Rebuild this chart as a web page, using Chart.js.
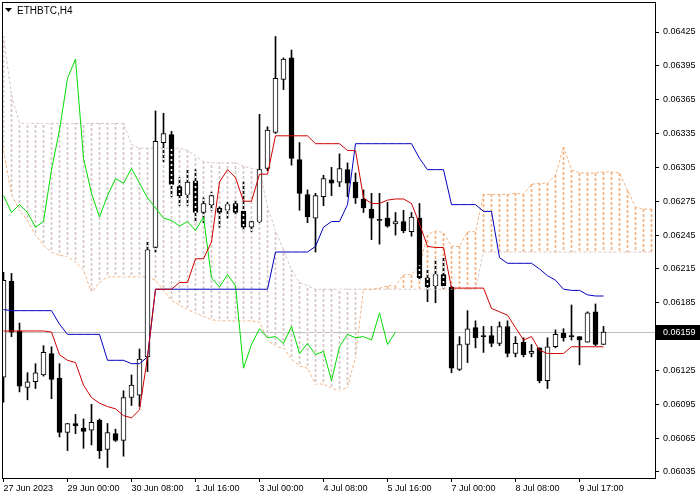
<!DOCTYPE html>
<html><head><meta charset="utf-8">
<script src="https://cdn.jsdelivr.net/npm/chart.js@4.4.1/dist/chart.umd.min.js"></script>
<style>html,body{margin:0;padding:0;background:#fff;}canvas{display:block;}</style>
</head><body>
<canvas id="c" width="700" height="500"></canvas>
<script>
const symbolTitle = "ETHBTC,H4";
const timeLabels = ["27 Jun 2023","29 Jun 00:00","30 Jun 08:00","1 Jul 16:00","3 Jul 00:00","4 Jul 08:00","5 Jul 16:00","7 Jul 00:00","8 Jul 08:00","9 Jul 17:00"];
const timeLabelBars = [0,8,16,24,32,40,48,56,64,72];
const priceTicks = [0.06035,0.06065,0.06095,0.06125,0.06155,0.06185,0.06215,0.06245,0.06275,0.06305,0.06335,0.06365,0.06395,0.06425];
const lastPrice = 0.06159;

const open = [0.06119,0.06204,0.06160,0.06110,0.06115,0.06121,0.06140,0.06118,0.06070,0.06078,
0.06074,0.06072,0.06081,0.06055,0.06069,0.06063,0.06101,0.06103,0.06137,0.06234,
0.06327,0.06334,0.06288,0.06281,0.06293,0.06265,0.06272,0.06269,0.06267,0.06273,
0.06266,0.06252,0.06257,0.06304,0.06336,0.06383,0.06402,0.06312,0.06281,0.06260,
0.06279,0.06294,0.06292,0.06303,0.06292,0.06277,0.06268,0.06259,0.06260,0.06255,
0.06257,0.06248,0.06260,0.06207,0.06200,0.06210,0.06199,0.06126,0.06148,0.06163,
0.06156,0.06156,0.06149,0.06164,0.06140,0.06150,0.06140,0.06145,0.06116,0.06146,
0.06158,0.06156,0.06155,0.06150,0.06177,0.06148];
const high = [0.06212,0.06211,0.06167,0.06123,0.06131,0.06147,0.06146,0.06131,0.06078,0.06086,
0.06082,0.06095,0.06082,0.06078,0.06073,0.06107,0.06121,0.06144,0.06239,0.06355,
0.06353,0.06337,0.06296,0.06303,0.06303,0.06278,0.06283,0.06270,0.06274,0.06276,
0.06292,0.06258,0.06352,0.06341,0.06421,0.06402,0.06409,0.06327,0.06285,0.06282,
0.06298,0.06305,0.06317,0.06309,0.06300,0.06285,0.06282,0.06282,0.06274,0.06265,
0.06267,0.06265,0.06273,0.06214,0.06223,0.06225,0.06200,0.06155,0.06178,0.06169,
0.06164,0.06164,0.06168,0.06169,0.06155,0.06154,0.06148,0.06145,0.06154,0.06161,
0.06162,0.06183,0.06155,0.06177,0.06184,0.06164];
const low = [0.06097,0.06155,0.06106,0.06099,0.06109,0.06120,0.06100,0.06066,0.06054,0.06069,
0.06056,0.06059,0.06047,0.06039,0.06062,0.06049,0.06094,0.06093,0.06124,0.06230,
0.06310,0.06279,0.06271,0.06271,0.06256,0.06256,0.06267,0.06252,0.06260,0.06263,
0.06249,0.06248,0.06256,0.06302,0.06335,0.06374,0.06307,0.06267,0.06256,0.06230,
0.06271,0.06280,0.06288,0.06279,0.06273,0.06265,0.06241,0.06237,0.06252,0.06245,
0.06247,0.06244,0.06205,0.06186,0.06185,0.06198,0.06123,0.06125,0.06132,0.06145,
0.06141,0.06146,0.06147,0.06137,0.06137,0.06137,0.06137,0.06114,0.06109,0.06145,
0.06151,0.06152,0.06130,0.06150,0.06147,0.06148];
const close = [0.06205,0.06159,0.06111,0.06115,0.06123,0.06141,0.06117,0.06070,0.06078,0.06076,
0.06071,0.06079,0.06054,0.06070,0.06063,0.06101,0.06112,0.06135,0.06232,0.06328,
0.06335,0.06290,0.06280,0.06292,0.06265,0.06273,0.06280,0.06265,0.06272,0.06265,
0.06252,0.06257,0.06303,0.06338,0.06384,0.06401,0.06313,0.06282,0.06261,0.06280,
0.06295,0.06291,0.06304,0.06291,0.06278,0.06269,0.06260,0.06258,0.06253,0.06257,
0.06249,0.06261,0.06207,0.06199,0.06210,0.06200,0.06127,0.06148,0.06162,0.06154,
0.06155,0.06149,0.06164,0.06140,0.06149,0.06139,0.06142,0.06116,0.06146,0.06157,
0.06154,0.06155,0.06152,0.06176,0.06148,0.06159];

const tenkan = [0.06160,0.06160,0.06160,0.06160,0.06160,0.06160,0.06159,0.06139,0.06134,0.06132,
0.06112,0.06101,0.06096,0.06093,0.06091,0.06085,0.06083,0.06090,0.06137,0.06197,
0.06197,0.06197,0.06203,0.06203,0.06224,0.06224,0.06239,0.06292,0.06303,0.06296,
0.06275,0.06275,0.06299,0.06299,0.06333,0.06333,0.06333,0.06333,0.06333,0.06326,
0.06326,0.06326,0.06326,0.06320,0.06320,0.06278,0.06273,0.06273,0.06276,0.06277,
0.06277,0.06273,0.06255,0.06235,0.06234,0.06234,0.06198,0.06198,0.06198,0.06198,
0.06198,0.06180,0.06177,0.06174,0.06163,0.06152,0.06155,0.06143,0.06140,0.06140,
0.06140,0.06146,0.06146,0.06146,0.06146,0.06146];
const kijun = [0.06179,0.06178,0.06178,0.06178,0.06178,0.06178,0.06178,0.06166,0.06157,0.06157,
0.06157,0.06157,0.06157,0.06134,0.06134,0.06134,0.06131,0.06131,0.06137,0.06197,
0.06197,0.06197,0.06197,0.06197,0.06197,0.06197,0.06197,0.06197,0.06197,0.06197,
0.06197,0.06197,0.06197,0.06197,0.06230,0.06230,0.06230,0.06230,0.06230,0.06235,
0.06252,0.06257,0.06257,0.06272,0.06326,0.06326,0.06326,0.06326,0.06326,0.06326,
0.06326,0.06326,0.06313,0.06303,0.06303,0.06303,0.06272,0.06272,0.06272,0.06272,
0.06266,0.06266,0.06225,0.06220,0.06220,0.06220,0.06220,0.06215,0.06209,0.06205,
0.06197,0.06196,0.06196,0.06192,0.06191,0.06191];
const chikou = [0.06280,0.06265,0.06272,0.06265,0.06252,0.06257,0.06303,0.06338,0.06384,0.06401,
0.06313,0.06282,0.06261,0.06280,0.06295,0.06291,0.06304,0.06291,0.06278,0.06269,
0.06260,0.06258,0.06253,0.06257,0.06249,0.06261,0.06207,0.06199,0.06210,0.06200,
0.06127,0.06148,0.06162,0.06154,0.06155,0.06149,0.06164,0.06140,0.06149,0.06139,
0.06142,0.06116,0.06146,0.06157,0.06154,0.06155,0.06152,0.06176,0.06148,0.06159];
const spanA = [0.06320,0.06281,0.06267,0.06258,0.06245,0.06236,0.06230,0.06227,0.06226,0.06221,
0.06214,0.06194,0.06203,0.06208,0.06208,0.06208,0.06208,0.06208,0.06208,0.06205,
0.06196,0.06187,0.06183,0.06179,0.06176,0.06173,0.06170,0.06169,0.06169,0.06169,
0.06169,0.06169,0.06168,0.06152,0.06146,0.06145,0.06135,0.06129,0.06127,0.06113,
0.06113,0.06109,0.06107,0.06110,0.06137,0.06197,0.06197,0.06198,0.06200,0.06200,
0.06210,0.06210,0.06218,0.06245,0.06249,0.06247,0.06235,0.06235,0.06248,0.06248,
0.06281,0.06281,0.06281,0.06281,0.06282,0.06281,0.06290,0.06291,0.06291,0.06298,
0.06323,0.06303,0.06300,0.06300,0.06300,0.06301,0.06301,0.06300,0.06285,0.06270,
0.06268,0.06268];
const spanB = [0.06421,0.06369,0.06344,0.06344,0.06344,0.06344,0.06344,0.06344,0.06344,0.06344,
0.06344,0.06344,0.06344,0.06344,0.06344,0.06344,0.06325,0.06322,0.06322,0.06322,
0.06322,0.06322,0.06322,0.06320,0.06315,0.06310,0.06309,0.06309,0.06309,0.06309,
0.06306,0.06304,0.06303,0.06270,0.06249,0.06232,0.06214,0.06203,0.06200,0.06197,
0.06197,0.06197,0.06197,0.06197,0.06197,0.06197,0.06197,0.06197,0.06197,0.06197,
0.06197,0.06197,0.06197,0.06197,0.06197,0.06197,0.06197,0.06197,0.06197,0.06197,
0.06230,0.06230,0.06230,0.06230,0.06230,0.06230,0.06230,0.06230,0.06230,0.06230,
0.06230,0.06230,0.06230,0.06230,0.06230,0.06230,0.06230,0.06230,0.06230,0.06230,
0.06230,0.06230];

const Y_MIN = 0.0602968, Y_MAX = 0.0645071;
const X_MIN = -0.0625, X_MAX = 81.4375;

const FONT = 'Liberation Sans';
Chart.defaults.font.family = FONT;
Chart.defaults.font.size = 9;
Chart.defaults.color = '#000';

const SANDY = 'rgb(242,178,128)', THISTLE = 'rgb(214,198,198)';
const DASH_ON = 3, DASH_PERIOD = 5;

function tile(onColor, offColor) {
  const c = document.createElement('canvas');
  c.width = 1; c.height = DASH_PERIOD;
  const g = c.getContext('2d');
  if (onColor) { g.fillStyle = onColor; g.fillRect(0, 0, 1, DASH_ON); }
  if (offColor) { g.fillStyle = offColor; g.fillRect(0, DASH_ON, 1, DASH_PERIOD - DASH_ON); }
  return c;
}
const tiles = { sandy: tile(SANDY, null), thistle: tile(THISTLE, null), gap: tile(null, '#fff') };
const patCache = {};
function phased(ctx, key, phase) {
  const k = key + ':' + phase;
  if (!patCache[k]) {
    const p = ctx.createPattern(tiles[key], 'repeat');
    p.setTransform(new DOMMatrix([1, 0, 0, 1, 0, phase]));
    patCache[k] = p;
  }
  return patCache[k];
}
function cloudStyle(kind) {
  return (c) => {
    const i = c.dataIndex;
    const ys = c.chart.scales && c.chart.scales.y;
    if (i === undefined || !ys) return 'rgba(0,0,0,0)';
    const phase = Math.round(ys.getPixelForValue(spanA[i])) % DASH_PERIOD;
    const key = kind === 'gap' ? 'gap' : (spanA[i] >= spanB[i] ? 'sandy' : 'thistle');
    return phased(c.chart.ctx, key, phase);
  };
}

const pts = arr => arr.map((v, i) => ({x: i, y: v}));
const up = close.map((c, i) => c >= open[i]);
const cloudData = spanA.map((a, i) => ({x: i, y: [a, spanB[i]]}));

const datasets = [
  { type: 'bar', label: 'Cloud', order: 10, grouped: false, barThickness: 1, borderWidth: 0,
    data: cloudData, backgroundColor: cloudStyle('fill') },
  { type: 'line', label: 'Senkou Span A', order: 9, data: pts(spanA), borderColor: SANDY,
    borderWidth: 1, borderDash: [3, 2], pointRadius: 0, tension: 0 },
  { type: 'line', label: 'Senkou Span B', order: 9, data: pts(spanB), borderColor: THISTLE,
    borderWidth: 1, borderDash: [3, 2], pointRadius: 0, tension: 0 },
  { type: 'bar', label: 'Wick', order: 6, grouped: false, barThickness: 1, borderWidth: 0,
    data: high.map((h, i) => ({x: i, y: [low[i], h]})), backgroundColor: '#000' },
  { type: 'bar', label: 'Body', order: 5, grouped: false, barThickness: 5, borderWidth: 1,
    borderSkipped: false, borderColor: '#000',
    data: open.map((o, i) => ({x: i, y: [o, close[i]]})),
    backgroundColor: up.map(u => u ? '#fff' : '#000') },
  { type: 'bar', label: 'Cloud gaps', order: 4, grouped: false, barThickness: 1, borderWidth: 0,
    data: cloudData, backgroundColor: cloudStyle('gap') },
  { type: 'line', label: 'Chikou Span', order: 3, data: pts(chikou), borderColor: '#00dd00',
    borderWidth: 1, pointRadius: 0, tension: 0 },
  { type: 'line', label: 'Kijun-sen', order: 2, data: pts(kijun), borderColor: '#0000c0',
    borderWidth: 1, pointRadius: 0, tension: 0 },
  { type: 'line', label: 'Tenkan-sen', order: 1, data: pts(tenkan), borderColor: '#d00000',
    borderWidth: 1, pointRadius: 0, tension: 0 }
];

const overlay = {
  id: 'overlay',
  beforeDatasetsDraw(chart) {
    const {ctx, chartArea: a, scales: {y}} = chart;
    const py = Math.round(y.getPixelForValue(lastPrice)) + 0.5;
    ctx.save();
    ctx.strokeStyle = '#c0c0c0'; ctx.lineWidth = 1;
    ctx.beginPath(); ctx.moveTo(a.left, py); ctx.lineTo(a.right, py); ctx.stroke();
    ctx.restore();
  },
  afterDraw(chart) {
    const {ctx, chartArea: a, scales: {y}} = chart;
    ctx.save();
    ctx.strokeStyle = '#000'; ctx.lineWidth = 1;
    ctx.strokeRect(a.left - 0.5, a.top - 0.5, a.right - a.left + 1, a.bottom - a.top + 1);
    ctx.fillStyle = '#000';
    ctx.beginPath(); ctx.moveTo(5, 8); ctx.lineTo(12, 8); ctx.lineTo(8.5, 12); ctx.closePath(); ctx.fill();
    ctx.font = '10px "' + FONT + '"'; ctx.textBaseline = 'middle'; ctx.textAlign = 'left';
    ctx.fillText(symbolTitle, 17, 11);
    const py = Math.round(y.getPixelForValue(lastPrice));
    ctx.fillStyle = '#000';
    ctx.fillRect(a.right + 1, py - 7, 700 - a.right - 1, 15);
    ctx.fillStyle = '#fff'; ctx.font = '9px "' + FONT + '"';
    ctx.fillText(lastPrice.toFixed(5), a.right + 8, py + 1);
    ctx.restore();
  }
};

new Chart(document.getElementById('c'), {
  type: 'bar',
  data: { datasets },
  options: {
    responsive: false, animation: false, devicePixelRatio: 1,
    events: [],
    layout: { padding: { left: 3, top: 3, right: 0, bottom: 0 } },
    plugins: { legend: { display: false }, tooltip: { enabled: false }, title: { display: false } },
    scales: {
      x: {
        type: 'linear', min: X_MIN, max: X_MAX, offset: false, bounds: 'data',
        grid: { display: true, drawOnChartArea: false, drawTicks: true, tickLength: 4, color: '#000', offset: false },
        border: { display: false },
        afterBuildTicks: s => { s.ticks = timeLabelBars.map(v => ({value: v})); },
        afterFit: s => { s.height = 22; s.paddingLeft = 0; s.paddingRight = 0; },
        ticks: { autoSkip: false, maxRotation: 0, minRotation: 0, align: 'start', padding: 1,
                 callback: (v, idx) => timeLabels[idx] }
      },
      y: {
        type: 'linear', position: 'right', min: Y_MIN, max: Y_MAX, bounds: 'data',
        grid: { display: true, drawOnChartArea: false, drawTicks: true, tickLength: 4, color: '#000' },
        border: { display: false },
        afterBuildTicks: s => { s.ticks = priceTicks.map(v => ({value: v})); },
        afterFit: s => { s.width = 45; s.paddingTop = 0; s.paddingBottom = 0; },
        ticks: { padding: 4, autoSkip: false, callback: v => v.toFixed(5) }
      }
    }
  },
  plugins: [overlay]
});
</script>
</body></html>
